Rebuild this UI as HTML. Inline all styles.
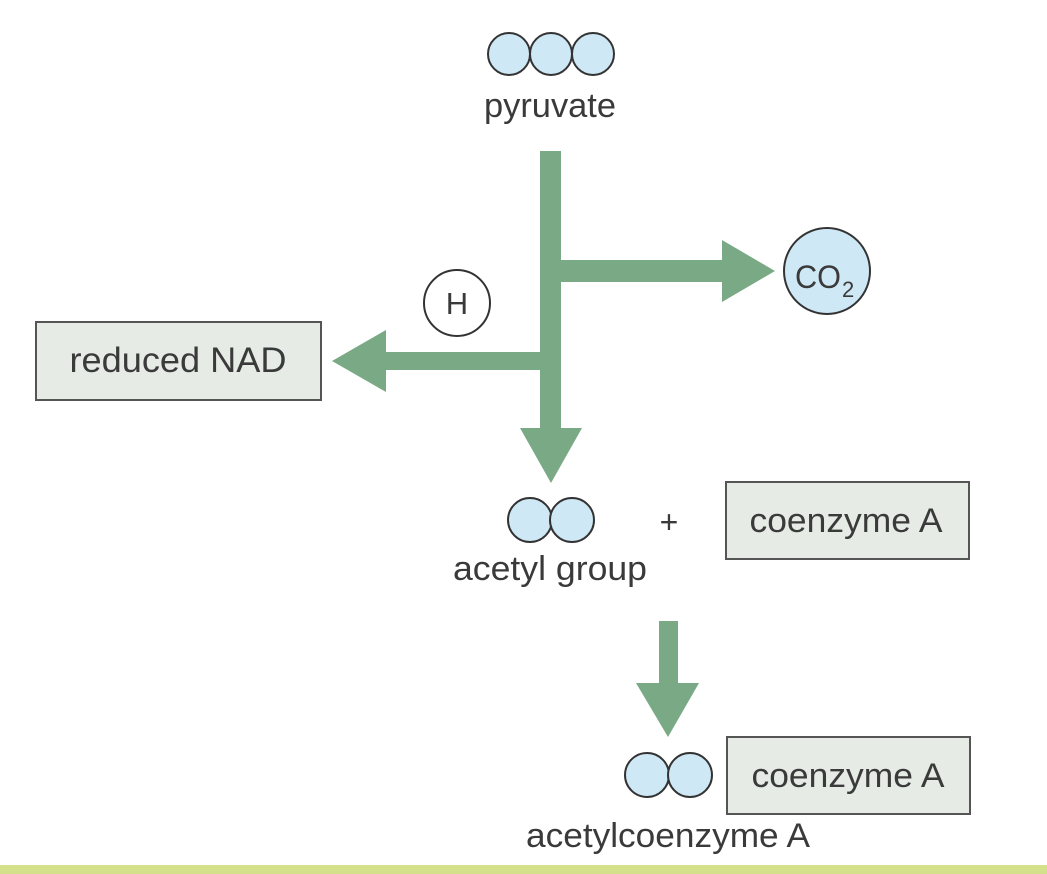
<!DOCTYPE html>
<html><head><meta charset="utf-8"><style>
html,body{margin:0;padding:0;background:#fff;}
svg{display:block;}
text{font-family:"Liberation Sans",sans-serif;fill:#3a3a3a;}
</style></head><body>
<svg width="1047" height="874" viewBox="0 0 1047 874" xmlns="http://www.w3.org/2000/svg">
<g fill="#cfe8f6" stroke="#333" stroke-width="2">
<circle cx="509" cy="54" r="21"/><circle cx="551" cy="54" r="21"/><circle cx="593" cy="54" r="21"/>
</g>
<text x="550" y="117" font-size="34" text-anchor="middle" textLength="132" lengthAdjust="spacingAndGlyphs">pyruvate</text>
<g fill="#7aaa85">
<rect x="540" y="151" width="21" height="278"/>
<rect x="561" y="260" width="162" height="22"/>
<polygon points="722,240 775,271 722,302"/>
<rect x="386" y="352" width="155" height="18"/>
<polygon points="386,330 332,361 386,392"/>
<polygon points="520,428 582,428 551,483"/>
<rect x="659" y="621" width="19" height="63"/>
<polygon points="636,683 699,683 668,737"/>
</g>
<circle cx="827" cy="271" r="43" fill="#cfe8f6" stroke="#333" stroke-width="2"/>
<text x="795" y="288" font-size="32" textLength="46" lengthAdjust="spacingAndGlyphs">CO</text>
<text x="842" y="297" font-size="22">2</text>
<circle cx="457" cy="303" r="33" fill="#fff" stroke="#333" stroke-width="2"/>
<text x="457" y="314" font-size="31" text-anchor="middle">H</text>
<rect x="36" y="322" width="285" height="78" fill="#e6ebe6" stroke="#555" stroke-width="2"/>
<text x="178" y="372" font-size="35" text-anchor="middle" textLength="217" lengthAdjust="spacingAndGlyphs">reduced NAD</text>
<g fill="#cfe8f6" stroke="#333" stroke-width="2">
<circle cx="530" cy="520" r="22"/><circle cx="572" cy="520" r="22"/>
</g>
<text x="669" y="533" font-size="32" text-anchor="middle">+</text>
<text x="550" y="580" font-size="34" text-anchor="middle" textLength="194" lengthAdjust="spacingAndGlyphs">acetyl group</text>
<rect x="726" y="482" width="243" height="77" fill="#e6ebe6" stroke="#555" stroke-width="2"/>
<text x="846" y="532" font-size="34" text-anchor="middle" textLength="193" lengthAdjust="spacingAndGlyphs">coenzyme A</text>
<g fill="#cfe8f6" stroke="#333" stroke-width="2">
<circle cx="647" cy="775" r="22"/><circle cx="690" cy="775" r="22"/>
</g>
<rect x="727" y="737" width="243" height="77" fill="#e6ebe6" stroke="#555" stroke-width="2"/>
<text x="848" y="787" font-size="34" text-anchor="middle" textLength="193" lengthAdjust="spacingAndGlyphs">coenzyme A</text>
<text x="668" y="847" font-size="34" text-anchor="middle" textLength="284" lengthAdjust="spacingAndGlyphs">acetylcoenzyme A</text>
<rect x="0" y="865" width="1047" height="9" fill="#d4e08a"/>
</svg>
</body></html>
